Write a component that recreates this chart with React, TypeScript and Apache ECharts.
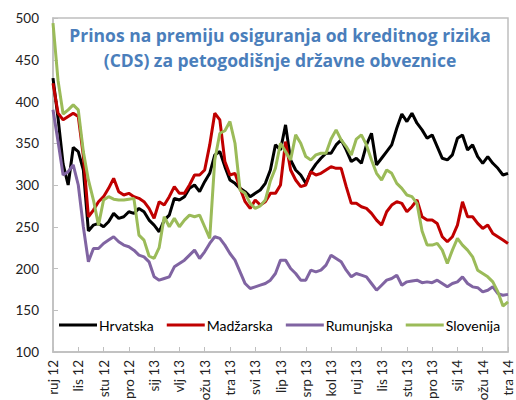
import React, { useEffect, useRef } from "react";
import * as echarts from "echarts";

const monthLabels = [
  "ruj 12", "lis 12", "stu 12", "pro 12", "sij 13", "vlj 13", "ožu 13", "tra 13", "svi 13", "lip 13",
  "srp 13", "kol 13", "ruj 13", "lis 13", "stu 13", "pro 13", "sij 14", "ožu 14", "tra 14",
];
const POINTS_PER_LABEL = 5;

const hrvatska = [
  428, 380, 325, 300, 345, 340, 318, 245, 252, 254,
  250, 256, 266, 260, 262, 268, 266, 272, 268, 258,
  252, 244, 258, 264, 284, 282, 286, 296, 300, 292,
  304, 314, 336, 340, 322, 306, 302, 296, 292, 286,
  290, 294, 302, 318, 348, 342, 372, 330, 318, 312,
  302, 316, 325, 332, 338, 338, 348, 354, 342, 328,
  332, 326, 348, 362, 324, 332, 340, 348, 368, 385,
  376, 386, 374, 366, 356, 360, 346, 332, 330, 336,
  356, 360, 342, 348, 334, 326, 334, 326, 320, 312,
  314,
];
const madzarska = [
  422, 386, 378, 382, 386, 382, 335, 262, 270, 280,
  286, 296, 308, 292, 288, 290, 286, 284, 280, 272,
  260, 280, 276, 286, 298, 290, 290, 300, 312, 312,
  318, 348, 386, 378, 328, 312, 314, 296, 280, 272,
  282, 276, 280, 290, 290, 300, 352, 318, 306, 298,
  300, 316, 312, 314, 318, 322, 320, 320, 298, 278,
  278, 274, 272, 266, 258, 252, 268, 276, 280, 278,
  268, 274, 282, 262, 258, 258, 254, 238, 232, 238,
  252, 280, 262, 262, 254, 248, 252, 242, 238, 234,
  230,
];
const rumunjska = [
  390, 352, 312, 316, 324, 300, 250, 208, 224, 224,
  230, 234, 238, 232, 228, 226, 222, 216, 214, 208,
  190, 186, 188, 190, 202, 206, 210, 216, 222, 212,
  220, 230, 238, 236, 228, 218, 210, 196, 182, 176,
  178, 180, 182, 186, 194, 210, 210, 200, 194, 186,
  186, 198, 196, 198, 204, 216, 212, 208, 198, 190,
  194, 192, 190, 182, 174, 180, 186, 188, 192, 180,
  184, 185, 186, 183, 184, 183, 186, 182, 178, 182,
  184, 190, 182, 178, 177, 172, 174, 178, 170, 168,
  169,
];
const slovenija = [
  494, 425, 385, 390, 396, 390, 340, 306, 282, 252,
  282, 286, 283, 282, 282, 283, 284, 240, 234, 215,
  212, 225, 262, 250, 260, 250, 258, 264, 262, 264,
  250, 236, 330, 362, 365, 376, 350, 294, 290, 278,
  272, 275, 282, 305, 320, 350, 340, 330, 360, 350,
  334, 330, 336, 338, 338, 355, 366, 354, 346, 336,
  355, 360, 348, 330, 314, 306, 318, 314, 302, 296,
  288, 286, 278, 245, 228, 228, 230, 222, 206, 222,
  236, 228, 222, 214, 198, 194, 190, 184, 172, 155,
  160,
];

const seriesNames = ["Hrvatska", "Madžarska", "Rumunjska", "Slovenija"];
const seriesColors = ["#000000", "#c00000", "#8064a2", "#9bbb59"];
const seriesData = [hrvatska, madzarska, rumunjska, slovenija];

const titleText = "Prinos na premiju osiguranja od kreditnog rizika\n(CDS) za petogodišnje državne obveznice";

const FONT = "Lato, 'Open Sans', sans-serif";

export default function App() {
  const ref = useRef<HTMLDivElement>(null);
  useEffect(() => {
    if (!ref.current) return;
    const chart = echarts.init(ref.current, null, { renderer: "svg" });
    const categories = hrvatska.map((_, i) => String(i));
    chart.setOption({
      animation: false,
      textStyle: { fontFamily: FONT },
      grid: {
        left: 53,
        right: 8,
        top: 18,
        bottom: 48,
        show: true,
        containLabel: false,
        outerBoundsMode: "none",
        borderColor: "#bfbfbf",
        borderWidth: 1.5,
        backgroundColor: "transparent",
      },
      graphic: [
        {
          type: "text",
          x: 280,
          y: 22,
          z: 100,
          style: {
            text: titleText,
            align: "center",
            verticalAlign: "top",
            fontSize: 17.5,
            fontWeight: "bold",
            fontFamily: "'Open Sans', Lato, sans-serif",
            fill: "#4a7ebb",
            lineHeight: 25,
          },
        },
      ],
      legend: {
        left: 59,
        top: 318,
        icon: "rect",
        itemWidth: 38,
        itemHeight: 3,
        itemGap: 13,
        padding: 0,
        textStyle: { fontSize: 14, color: "#000", fontFamily: FONT, padding: [0, 0, 0, -3] },
        data: seriesNames,
      },
      xAxis: {
        type: "category",
        data: categories,
        boundaryGap: false,
        axisLine: { lineStyle: { color: "#bfbfbf", width: 1.5 } },
        axisTick: {
          inside: true,
          length: 5,
          interval: (i: number) => i % POINTS_PER_LABEL === 0,
          lineStyle: { color: "#bfbfbf" },
        },
        axisLabel: {
          interval: (i: number) => i % POINTS_PER_LABEL === 0,
          rotate: 90,
          fontSize: 13.5,
          color: "#222",
          margin: 8,
          fontFamily: FONT,
          formatter: (_v: string, i: number) =>
            i % POINTS_PER_LABEL === 0 ? monthLabels[i / POINTS_PER_LABEL] : "",
        },
        splitLine: { show: false },
      },
      yAxis: {
        type: "value",
        min: 100,
        max: 500,
        interval: 50,
        axisLine: { show: true, lineStyle: { color: "#bfbfbf", width: 1.5 } },
        axisTick: { show: true, inside: true, length: 5, lineStyle: { color: "#bfbfbf" } },
        axisLabel: { fontSize: 13.5, color: "#222", margin: 14, fontFamily: FONT },
        splitLine: { show: false },
      },
      series: seriesNames.map((name, idx) => ({
        name,
        type: "line",
        data: seriesData[idx],
        showSymbol: false,
        symbol: "none",
        lineStyle: { color: seriesColors[idx], width: 3 },
        itemStyle: { color: seriesColors[idx] },
      })),
    });
    return () => chart.dispose();
  }, []);
  return <div ref={ref} style={{ width: 516, height: 400, position: "absolute", left: 0, top: 0 }} />;
}
